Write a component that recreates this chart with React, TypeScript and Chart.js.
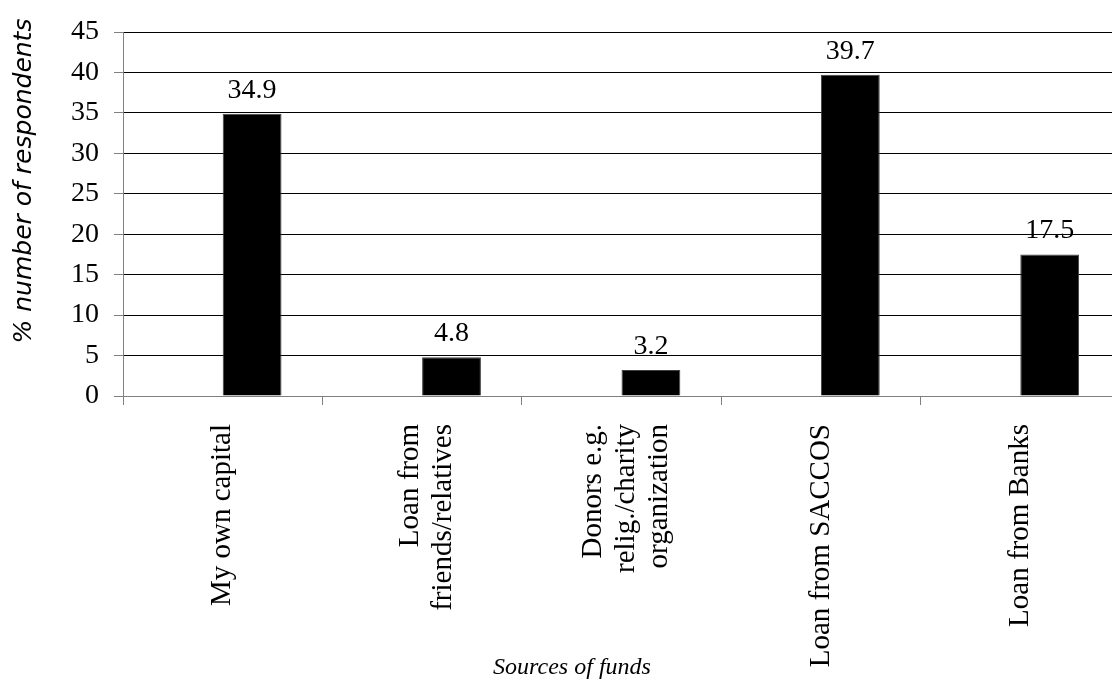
import React, { useEffect, useRef } from "react";
import { Chart, registerables } from "chart.js";

Chart.register(...registerables);

const categories: string[][] = [
  ["My own capital"],
  ["Loan from", "friends/relatives"],
  ["Donors e.g.", "relig./charity", "organization"],
  ["Loan from SACCOS"],
  ["Loan from Banks"],
];
const values: number[] = [34.9, 4.8, 3.2, 39.7, 17.5];
const spacer: (number | null)[] = [null, null, null, null, null];
const yTicks: number[] = [0, 5, 10, 15, 20, 25, 30, 35, 40, 45];
const yTitle = "% number of respondents";
const xTitle = "Sources of funds";

const SERIF = '"Liberation Serif", "Times New Roman", serif';

const labelsPlugin = {
  id: "valueLabels",
  afterDatasetsDraw(chart: any) {
    const ctx = chart.ctx;
    const meta = chart.getDatasetMeta(1);
    ctx.save();
    ctx.fillStyle = "#000";
    ctx.font = `28px ${SERIF}`;
    ctx.textAlign = "center";
    ctx.textBaseline = "alphabetic";
    meta.data.forEach((bar: any, i: number) => {
      ctx.fillText(values[i].toFixed(1), bar.x, bar.y - 16);
    });
    ctx.restore();
  },
};

const categoryLabelsPlugin = {
  id: "categoryLabels",
  afterDraw(chart: any) {
    const ctx = chart.ctx;
    const xs = chart.scales.x;
    const top = chart.chartArea.bottom + 28;
    const lineGap = 33;
    ctx.save();
    ctx.fillStyle = "#000";
    ctx.font = `29px ${SERIF}`;
    ctx.textAlign = "right";
    ctx.textBaseline = "middle";
    categories.forEach((lines, i) => {
      const px = xs.getPixelForTick(i);
      const n = lines.length;
      const shift = n > 1 ? 5 : 0;
      lines.forEach((line, j) => {
        const cx = px + shift + (j - (n - 1) / 2) * lineGap;
        ctx.save();
        ctx.translate(cx, top);
        ctx.rotate(-Math.PI / 2);
        ctx.fillText(line, 0, 0);
        ctx.restore();
      });
    });
    ctx.restore();
  },
};

const titlesPlugin = {
  id: "axisTitles",
  afterDraw(chart: any) {
    const ctx = chart.ctx;
    const area = chart.chartArea;
    ctx.save();
    ctx.fillStyle = "#000";
    ctx.translate(24, area.top + 149);
    ctx.rotate(-Math.PI / 2);
    ctx.font = 'italic 25px "DejaVu Sans"';
    ctx.textAlign = "center";
    ctx.textBaseline = "middle";
    ctx.fillText(yTitle, 0, 0);
    ctx.restore();
    ctx.save();
    ctx.fillStyle = "#000";
    ctx.font = `italic 24px ${SERIF}`;
    ctx.textAlign = "center";
    ctx.textBaseline = "middle";
    ctx.fillText(xTitle, 572, 668);
    ctx.restore();
  },
};

export default function App() {
  const ref = useRef<HTMLCanvasElement | null>(null);
  useEffect(() => {
    if (!ref.current) return;
    const chart = new Chart(ref.current, {
      type: "bar",
      data: {
        labels: categories.map((c) => c.join(" ")),
        datasets: [
          {
            label: "",
            data: spacer,
            backgroundColor: "#000",
          },
          {
            label: "Sources",
            data: values,
            backgroundColor: "#000",
            borderColor: "#404040",
            borderWidth: 1,
          },
        ],
      },
      options: {
        responsive: true,
        maintainAspectRatio: false,
        animation: false,
        datasets: {
          bar: { categoryPercentage: 0.59, barPercentage: 1 },
        },
        layout: { padding: { top: 32, right: 5, left: 0, bottom: 0 } },
        plugins: {
          legend: { display: false },
          title: { display: false },
          tooltip: { enabled: false },
        },
        scales: {
          x: {
            grid: {
              display: true,
              drawOnChartArea: false,
              drawTicks: true,
              tickLength: 9,
              color: "#808080",
              offset: true,
            },
            border: { color: "#808080" },
            ticks: { display: false, autoSkip: false },
            afterFit(scale: any) {
              scale.height = 288;
            },
          },
          y: {
            min: 0,
            max: 45,
            afterBuildTicks(scale: any) {
              scale.ticks = yTicks.map((v) => ({ value: v }));
            },
            grid: {
              color: (c: any) => (c.index === 0 ? "#808080" : "#000"),
              tickLength: 9,
              tickColor: "#808080",
            },
            border: { color: "#808080" },
            ticks: {
              color: "#000",
              font: { family: SERIF, size: 28 },
              padding: 15,
            },
            afterFit(scale: any) {
              scale.width = 123;
            },
          },
        },
      },
      plugins: [labelsPlugin, categoryLabelsPlugin, titlesPlugin],
    });
    return () => chart.destroy();
  }, []);
  return (
    <div
      style={{
        position: "fixed",
        top: 0,
        left: 0,
        width: 1112,
        height: 684,
        overflow: "hidden",
        background: "#fff",
      }}
    >
      <div style={{ width: 1125, height: 684 }}>
        <canvas ref={ref} />
      </div>
    </div>
  );
}
